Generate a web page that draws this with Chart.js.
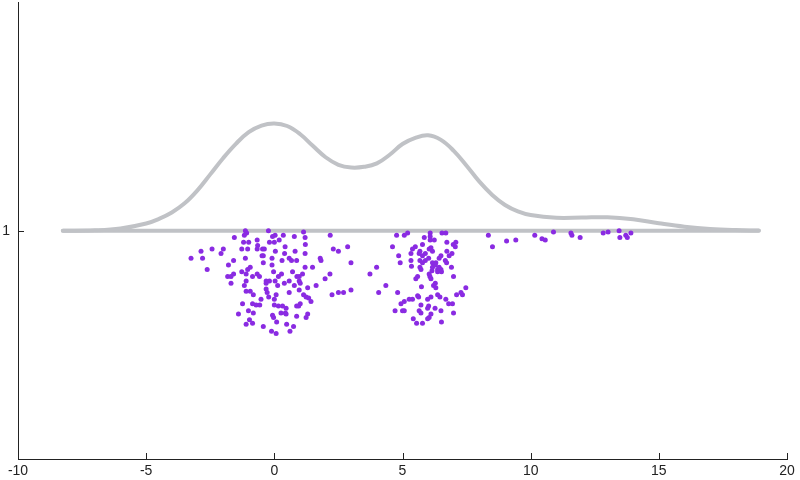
<!DOCTYPE html>
<html>
<head>
<meta charset="utf-8">
<script src="https://cdn.jsdelivr.net/npm/chart.js@4.4.1/dist/chart.umd.min.js"></script>
<style>
  body { margin: 0; background: #fff; }
</style>
</head>
<body>
<canvas id="grafico" width="800" height="480"></canvas>
<script>
// ticks
const xTicks = [-10, -5, 0, 5, 10, 15, 20]
const yTicks = [1]

// curva de densidade (parte de cima)
const kdeX = [-8.25, -7, -6, -5, -4.5, -4, -3.5, -3, -2.5, -2, -1.5, -1, -0.5, 0, 0.5, 1, 1.5, 2, 2.5, 3, 3.5, 4, 4.5, 5, 5.5, 6, 6.5, 7, 7.5, 8, 8.5, 9, 9.5, 10, 11, 12, 13, 14, 15, 16, 17, 18, 18.9]
const kdeY = [1.000, 1.002, 1.01, 1.032, 1.052, 1.08, 1.12, 1.177, 1.247, 1.318, 1.381, 1.432, 1.461, 1.47, 1.459, 1.424, 1.372, 1.322, 1.289, 1.277, 1.28, 1.295, 1.333, 1.38, 1.407, 1.418, 1.398, 1.35, 1.285, 1.215, 1.157, 1.113, 1.085, 1.069, 1.057, 1.058, 1.059, 1.05, 1.033, 1.018, 1.008, 1.003, 1.001]

// linha de base
const baseX = [-8.25, 18.9]
const baseY = [1, 1]

// pontos (x, y)
const pontosEsq = [[-1.13,1.00],[-1.08,0.99],[-1.56,0.97],[-1.17,0.98],[-0.67,0.96],[-1.20,0.95],[-1.00,0.95],[-0.65,0.935],[-2.43,0.92],[-1.99,0.92],[-2.08,0.90],[-2.86,0.91],[-1.27,0.92],[-1.04,0.92],[-0.67,0.92],[-3.25,0.88],[-2.80,0.88],[-1.13,0.88],[-1.59,0.87],[-1.79,0.85],[-2.62,0.83],[-1.04,0.83],[-0.94,0.84],[-1.27,0.82],[-1.82,0.80],[-1.59,0.81],[-1.69,0.80],[-1.10,0.81],[-1.10,0.78],[-0.85,0.80],[-0.67,0.81],[-1.69,0.77],[-1.17,0.76],[-1.10,0.735],[-0.94,0.735],[-0.82,0.72],[-1.24,0.68],[-0.85,0.68],[-0.71,0.675],[-0.57,0.675],[-1.01,0.65],[-0.82,0.64],[-1.40,0.635],[-0.97,0.61],[-0.85,0.595],[-1.10,0.59]]
const pontosZero = [[-0.23,1.00],[0.03,0.98],[-0.07,0.975],[0.35,0.98],[0.19,0.96],[0.78,0.975],[1.14,0.995],[1.20,0.97],[2.18,0.98],[-0.19,0.95],[0.00,0.95],[0.42,0.93],[1.21,0.94],[2.30,0.92],[2.50,0.91],[-0.46,0.92],[-0.39,0.92],[-0.48,0.89],[-0.43,0.89],[0.04,0.91],[0.40,0.90],[0.81,0.91],[1.20,0.90],[-0.09,0.88],[0.30,0.87],[0.58,0.88],[0.67,0.87],[0.87,0.87],[1.79,0.88],[1.82,0.87],[-0.43,0.86],[-0.09,0.85],[1.20,0.84],[1.49,0.84],[-0.03,0.82],[0.28,0.81],[0.71,0.82],[1.10,0.81],[2.17,0.81],[0.16,0.80],[0.88,0.80],[0.97,0.80],[1.98,0.79],[-0.58,0.80],[-0.32,0.78],[-0.19,0.78],[-0.32,0.77],[0.03,0.78],[0.58,0.78],[0.97,0.78],[1.01,0.77],[0.13,0.76],[0.39,0.77],[0.78,0.76],[1.30,0.75],[1.63,0.76],[-0.32,0.745],[-0.28,0.73],[0.58,0.73],[0.97,0.74],[0.07,0.72],[0.00,0.70],[1.14,0.72],[1.24,0.71],[1.34,0.705],[2.25,0.72],[2.50,0.73],[-0.22,0.71],[-0.52,0.70],[1.43,0.69],[0.00,0.675],[0.16,0.67],[0.32,0.67],[1.01,0.68],[0.95,0.67],[0.87,0.67],[0.46,0.66],[0.43,0.64],[0.46,0.635],[0.26,0.64],[-0.07,0.63],[-0.03,0.62],[1.30,0.635],[1.24,0.62],[0.87,0.625],[0.09,0.60],[0.48,0.59],[0.75,0.58],[-0.43,0.58],[-0.11,0.56],[0.07,0.55],[0.61,0.56]]
const pontosMeio = [[4.77,0.98],[2.86,0.93],[4.61,0.93],[4.85,0.89],[2.99,0.86],[3.99,0.84],[3.73,0.81],[4.35,0.76],[2.99,0.74],[2.70,0.73],[4.07,0.73],[4.81,0.73],[4.71,0.65]]
const pontosSeis = [[4.91,0.86],[5.07,0.98],[5.20,0.99],[6.08,0.99],[6.08,0.975],[6.54,0.99],[6.69,0.99],[5.85,0.97],[6.24,0.96],[6.08,0.96],[6.73,0.95],[7.08,0.95],[6.98,0.94],[7.06,0.93],[5.50,0.93],[5.78,0.94],[5.68,0.91],[6.11,0.925],[6.04,0.92],[6.17,0.91],[5.39,0.92],[5.33,0.90],[5.65,0.90],[5.78,0.89],[5.89,0.90],[6.73,0.91],[6.50,0.89],[6.43,0.88],[6.93,0.90],[6.82,0.89],[6.02,0.88],[5.33,0.87],[5.68,0.87],[5.78,0.86],[5.89,0.87],[6.17,0.86],[6.30,0.86],[6.67,0.87],[6.72,0.86],[5.35,0.845],[5.68,0.84],[5.72,0.83],[6.17,0.84],[6.28,0.85],[6.37,0.83],[6.43,0.84],[6.50,0.83],[6.52,0.82],[6.91,0.84],[6.15,0.825],[6.37,0.82],[6.04,0.81],[5.59,0.80],[5.52,0.79],[6.07,0.80],[6.11,0.79],[6.99,0.80],[6.28,0.77],[6.21,0.76],[6.30,0.75],[5.74,0.755],[7.47,0.75],[7.28,0.73],[7.34,0.72],[7.11,0.72],[6.37,0.72],[6.46,0.71],[5.59,0.715],[5.63,0.71],[5.26,0.70],[5.39,0.70],[6.11,0.71],[5.98,0.70],[6.69,0.70],[6.80,0.68],[6.95,0.68],[5.07,0.69],[4.94,0.68],[5.72,0.675],[6.02,0.67],[5.98,0.66],[6.27,0.66],[6.50,0.65],[5.65,0.65],[5.72,0.64],[5.00,0.65],[5.07,0.65],[6.99,0.64],[6.11,0.635],[6.04,0.62],[5.98,0.615],[5.42,0.615],[6.52,0.60],[5.55,0.595],[5.78,0.595]]
const pontosCauda = [[8.35,0.98],[8.51,0.93],[9.06,0.955],[9.42,0.96],[10.16,0.98],[10.44,0.965],[10.57,0.96],[10.89,0.995],[11.57,0.99],[11.61,0.98],[11.93,0.97],[12.83,0.99],[13.02,0.995],[13.45,1.00],[13.48,0.97],[13.71,0.98],[13.77,0.97],[13.91,0.99]]

const corCurva = '#c0c2c6'
const corPonto = '#8a2be2'
const corEixo = '#222'

function juntar(xs, ys) {
    return xs.map((x, i) => ({ x: x, y: ys[i] }))
}

const todosPontos = [].concat(pontosEsq, pontosZero, pontosMeio, pontosSeis, pontosCauda)
    .map(p => ({ x: p[0], y: p[1] }))

// ticks pra dentro do grafico
const ticksDentro = {
    id: 'ticksDentro',
    afterDraw(chart) {
        const ctx = chart.ctx
        const sx = chart.scales.x
        const sy = chart.scales.y
        const area = chart.chartArea
        ctx.save()
        ctx.strokeStyle = corEixo
        ctx.lineWidth = 1
        ctx.beginPath()
        sx.ticks.forEach(t => {
            const px = Math.round(sx.getPixelForValue(t.value)) + 0.5
            ctx.moveTo(px, area.bottom)
            ctx.lineTo(px, area.bottom - 6)
        })
        sy.ticks.forEach(t => {
            const py = Math.round(sy.getPixelForValue(t.value)) + 0.5
            ctx.moveTo(area.left, py)
            ctx.lineTo(area.left + 6, py)
        })
        ctx.stroke()
        ctx.restore()
    }
}

new Chart(document.getElementById('grafico'), {
    type: 'scatter',
    data: {
        datasets: [
            {
                data: todosPontos,
                backgroundColor: corPonto,
                borderWidth: 0,
                pointRadius: 2.5,
                pointHoverRadius: 0,
                order: 0
            },
            {
                data: juntar(kdeX, kdeY),
                showLine: true,
                borderColor: corCurva,
                borderWidth: 4,
                borderCapStyle: 'round',
                borderJoinStyle: 'round',
                tension: 0.4,
                pointRadius: 0,
                pointHoverRadius: 0,
                order: 1
            },
            {
                data: juntar(baseX, baseY),
                showLine: true,
                borderColor: corCurva,
                borderWidth: 4,
                borderCapStyle: 'round',
                pointRadius: 0,
                pointHoverRadius: 0,
                order: 1
            }
        ]
    },
    options: {
        responsive: false,
        animation: false,
        devicePixelRatio: 1,
        events: [],
        layout: {
            padding: { top: 0, right: 13, bottom: 0, left: 0 }
        },
        plugins: {
            legend: { display: false },
            tooltip: { enabled: false }
        },
        scales: {
            x: {
                type: 'linear',
                min: -10,
                max: 20,
                afterBuildTicks: (s) => { s.ticks = xTicks.map(v => ({ value: v })) },
                afterFit: (s) => { s.height = 21 },
                grid: { display: false, drawTicks: false },
                border: { display: true, color: corEixo, width: 1 },
                ticks: {
                    color: corEixo,
                    padding: 4,
                    maxRotation: 0,
                    font: { family: 'Liberation Sans', size: 14 }
                }
            },
            y: {
                type: 'linear',
                min: 0,
                max: 2,
                afterBuildTicks: (s) => { s.ticks = yTicks.map(v => ({ value: v })) },
                afterFit: (s) => {
                    s.width = 18
                    s.paddingTop = 0
                    s.paddingBottom = 0
                },
                grid: { display: false, drawTicks: false },
                border: { display: true, color: corEixo, width: 1 },
                ticks: {
                    color: corEixo,
                    padding: 8,
                    font: { family: 'Liberation Sans', size: 14 }
                }
            }
        }
    },
    plugins: [ticksDentro]
})
</script>
</body>
</html>
